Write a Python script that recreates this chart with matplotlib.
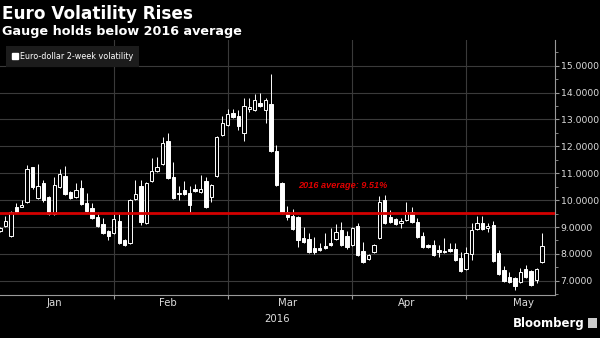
import numpy as np
import pandas as pd
import matplotlib
matplotlib.use("Agg")
import matplotlib.pyplot as plt
from matplotlib.patches import Patch

# Euro-dollar 2-week implied volatility, daily candles (2016-01-01 .. 2016-05-20)
opens = [8.85, 9.04, 8.66, 9.74, 9.75, 9.93, 11.23, 10.08, 10.63, 10.11,
         9.48, 10.49, 10.90, 10.30, 10.11, 10.45, 9.89, 9.70, 9.37, 9.11,
         8.85, 8.78, 9.22, 8.52, 8.40, 10.04, 10.52, 9.15, 10.71, 11.08,
         11.34, 12.20, 10.86, 10.22, 10.37, 10.26, 10.41, 10.30, 10.71, 10.11,
         10.90, 12.42, 12.79, 13.24, 13.13, 12.50, 13.39, 13.35, 13.61, 13.35,
         13.57, 11.83, 10.63, 9.56, 9.41, 9.37, 8.59, 8.55, 8.22, 8.22,
         8.29, 8.40, 8.55, 8.89, 8.66, 8.33, 9.04, 8.11, 7.81, 8.07,
         8.59, 10.00, 9.37, 9.30, 9.15, 9.26, 9.56, 9.18, 8.66, 8.33,
         8.33, 8.14, 8.11, 8.18, 8.18, 7.85, 7.44, 7.99, 8.93, 9.15,
         8.96, 9.07, 8.03, 7.40, 7.14, 7.10, 6.95, 7.44, 7.36, 7.03,
         7.70]
highs = [9.00, 9.41, 9.60, 9.89, 10.00, 11.30, 11.25, 11.34, 10.75, 10.15,
         10.86, 11.16, 11.27, 10.34, 10.63, 10.75, 10.26, 9.89, 9.56, 9.33,
         8.89, 9.56, 9.52, 8.55, 10.04, 10.75, 10.75, 10.67, 11.57, 11.60,
         12.35, 12.50, 11.42, 10.52, 10.71, 10.52, 10.60, 10.94, 10.86, 10.60,
         12.38, 13.13, 13.39, 13.39, 13.35, 13.80, 13.80, 13.95, 13.98, 13.80,
         14.69, 12.05, 10.67, 9.78, 9.67, 9.41, 9.00, 8.78, 8.63, 8.40,
         8.78, 8.96, 9.11, 9.18, 8.85, 9.00, 9.15, 8.44, 8.00, 8.37,
         10.15, 10.18, 9.63, 9.33, 9.33, 9.93, 9.74, 9.33, 8.81, 8.37,
         8.52, 8.33, 8.59, 8.40, 8.40, 8.07, 8.25, 9.15, 9.41, 9.41,
         9.15, 9.22, 8.14, 7.55, 7.33, 7.14, 7.47, 7.59, 7.40, 7.47,
         8.78]
lows = [8.80, 9.00, 8.64, 9.54, 9.73, 9.90, 10.41, 10.06, 9.93, 9.45,
        9.45, 10.45, 10.20, 10.04, 10.08, 9.82, 9.56, 9.30, 9.00, 8.74,
        8.52, 8.74, 8.37, 8.29, 8.37, 10.00, 9.07, 9.11, 10.67, 11.05,
        11.30, 10.79, 10.04, 10.00, 10.18, 9.52, 10.30, 10.26, 9.70, 9.93,
        10.86, 12.38, 12.76, 13.05, 12.61, 12.20, 13.28, 13.32, 13.46, 12.87,
        11.80, 10.52, 9.48, 9.26, 8.89, 8.25, 8.40, 8.03, 7.99, 8.11,
        8.18, 8.29, 8.52, 8.29, 8.18, 8.29, 7.92, 7.66, 7.77, 8.03,
        8.55, 9.11, 9.15, 9.07, 8.96, 9.22, 9.15, 8.59, 8.22, 8.22,
        7.92, 7.88, 8.03, 8.07, 7.73, 7.33, 7.40, 7.77, 8.89, 8.89,
        8.81, 7.70, 7.21, 6.95, 6.92, 6.66, 6.92, 7.10, 6.81, 6.92,
        7.66]
closes = [8.96, 9.22, 9.56, 9.56, 9.82, 11.16, 10.49, 10.52, 10.00, 9.48,
          10.56, 10.97, 10.22, 10.08, 10.37, 9.85, 9.59, 9.33, 9.04, 8.78,
          8.66, 9.30, 8.40, 8.33, 10.00, 10.22, 9.18, 10.63, 11.08, 11.23,
          12.12, 10.82, 10.08, 10.26, 10.22, 9.82, 10.34, 10.41, 9.74, 10.56,
          12.35, 12.87, 13.20, 13.09, 12.76, 13.50, 13.46, 13.72, 13.50, 13.72,
          11.83, 10.56, 9.52, 9.37, 8.93, 8.52, 8.44, 8.07, 8.07, 8.14,
          8.22, 8.33, 8.81, 8.33, 8.25, 8.96, 7.96, 7.70, 7.96, 8.33,
          9.93, 9.15, 9.18, 9.11, 9.22, 9.56, 9.18, 8.63, 8.25, 8.25,
          7.96, 8.07, 8.07, 8.11, 7.77, 7.36, 8.03, 8.89, 9.15, 8.93,
          9.04, 7.73, 7.25, 6.99, 6.95, 6.81, 7.33, 7.14, 6.84, 7.44,
          8.29]
average_2016 = 9.51
y_ticks = [7, 8, 9, 10, 11, 12, 13, 14, 15]

dates = pd.bdate_range("2016-01-01", "2016-05-20")
o, h, l, c = map(np.array, (opens, highs, lows, closes))
x = np.arange(len(dates))
up = c >= o

fig = plt.figure(figsize=(6, 3.38), dpi=100, facecolor="black")
ax = fig.add_axes([0.0, 0.127, 0.925, 0.755], facecolor="black")

grid_col = "#3a3a3a"
for v in y_ticks:
    ax.axhline(v, color=grid_col, lw=0.8, zorder=0)

# month boundaries and labels
month_start = [i for i in range(len(dates)) if i == 0 or dates[i].month != dates[i - 1].month]
month_names = [dates[i].strftime("%b") for i in month_start]
full_len = [len(pd.bdate_range(dates[i].replace(day=1), dates[i] + pd.offsets.MonthEnd(0)))
            for i in month_start]
for i in month_start[1:]:
    ax.axvline(i, color=grid_col, lw=0.8, zorder=0)

# wicks + bodies
ax.vlines(x, l, h, color="white", lw=0.7, zorder=2)
body_bottom = np.minimum(o, c)
body_h = np.maximum(np.abs(c - o), 0.02)
ax.bar(x[up], body_h[up], bottom=body_bottom[up], width=0.62,
       facecolor="black", edgecolor="white", lw=0.7, zorder=3)
ax.bar(x[~up], body_h[~up], bottom=body_bottom[~up], width=0.62,
       facecolor="white", edgecolor="white", lw=0.7, zorder=3)

ax.axhline(average_2016, color="#d40000", lw=2, zorder=4)
ax.text(55, 10.56, f"2016 average: {average_2016:.2f}%", color="#e00000",
        fontsize=6.6, style="italic", weight="bold", family="Liberation Sans",
        va="center", zorder=5)

ax.set_xlim(0, 102.4)
ax.set_ylim(6.47, 15.96)

ax.yaxis.tick_right()
ax.set_yticks(y_ticks)
ax.set_yticklabels([f"{v:.4f}" for v in y_ticks])
ax.set_yticks(np.arange(6.5, 15.6, 1.0), minor=True)
ax.tick_params(axis="y", which="major", colors="#999999", labelcolor="#dddddd",
               labelsize=6.7, length=3, pad=1)
ax.tick_params(axis="y", which="minor", colors="#999999", length=2)

ax.set_xticks(month_start[1:])
ax.set_xticklabels([])
ax.tick_params(axis="x", colors="#999999", length=3)
for i, name, n in zip(month_start, month_names, full_len):
    ax.text(i + n / 2 - 0.5, -0.012, name, transform=ax.get_xaxis_transform(),
            ha="center", va="top", color="#dddddd", fontsize=7.3)
ax.text(0.5, -0.075, "2016", transform=ax.transAxes, ha="center", va="top",
        color="#dddddd", fontsize=7.3)

for s in ("left", "top"):
    ax.spines[s].set_visible(False)
for s in ("right", "bottom"):
    ax.spines[s].set_color("#999999")
    ax.spines[s].set_linewidth(0.8)

leg = ax.legend(handles=[Patch(facecolor="white", edgecolor="white")],
                labels=["Euro-dollar 2-week volatility"], loc="upper left",
                bbox_to_anchor=(0.004, 0.99), fontsize=5.8, labelcolor="white",
                frameon=True, facecolor="#1c1c1c", edgecolor="none", framealpha=1,
                handlelength=0.7, handleheight=0.7, handletextpad=0.3,
                borderpad=0.7, fancybox=False)
leg.set_zorder(6)

fig.text(0.004, 0.985, "Euro Volatility Rises", color="white", fontsize=12.2,
         weight="bold", va="top", ha="left")
fig.text(0.004, 0.925, "Gauge holds below 2016 average", color="white", fontsize=9.2,
         weight="bold", va="top", ha="left")
fig.text(0.975, 0.025, "Bloomberg", color="white", fontsize=8.5, weight="bold",
         va="bottom", ha="right")
fig.patches.append(plt.Rectangle((0.98, 0.03), 0.015, 0.03, transform=fig.transFigure,
                                 facecolor="#cccccc", edgecolor="none"))

fig.savefig("out.png", dpi=100, facecolor="black")
